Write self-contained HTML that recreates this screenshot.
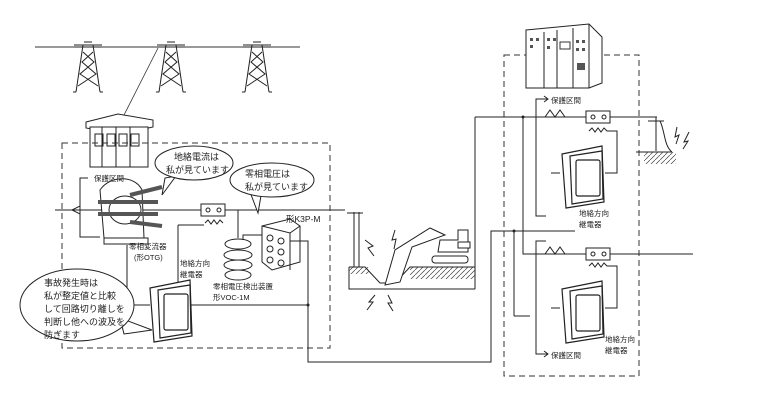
<!DOCTYPE html>
<html><head><meta charset="utf-8"><style>
html,body{margin:0;padding:0;background:#fff}
svg{display:block}
text{font-family:"Liberation Sans","Noto Sans CJK JP",sans-serif;fill:#222}
</style></head><body>
<svg width="768" height="419" viewBox="0 0 768 419" xmlns="http://www.w3.org/2000/svg">
<defs>
<pattern id="h" width="5" height="5" patternUnits="userSpaceOnUse"><path d="M0 5L5 0" stroke="#444" stroke-width="0.7"/></pattern>
<g id="tw" fill="none" stroke="#222" stroke-width="1">
<path d="M-4 0h8M-14 3h28M-14 5h28M-5 3L-12 50M5 3L12 50M-5 10L6 20L-8 32L10 44M5 10L-6 20L8 32L-10 44M-12 50h-3M12 50h3"/>
</g>
<g id="rel" fill="#fff" stroke="#222" stroke-width="1.2">
<path d="M0 8L40 0L42 56L4 62Z"/>
<path d="M8 10L40 5L41 53L10 58Z"/>
<rect x="14" y="14" width="24" height="36" rx="2"/>
</g>
</defs>

<path d="M35 47H300" stroke="#333" stroke-width="1"/>
<use href="#tw" x="88" y="42"/><use href="#tw" x="171" y="42"/><use href="#tw" x="257" y="42"/>
<path d="M158 48L123 117" stroke="#333" stroke-width="0.8"/>

<g fill="#fff" stroke="#222" stroke-width="1">
<path d="M86 122L118 114L153 120L153 127L121 134L86 128Z"/>
<rect x="90" y="127" width="58" height="40"/>
<rect x="95" y="134" width="8" height="12"/><rect x="107" y="134" width="8" height="12"/><rect x="119" y="134" width="8" height="12"/><rect x="131" y="134" width="8" height="12"/>
<path d="M102 127v40M116 127v40M130 127v40"/>
</g>

<rect x="62" y="143" width="268" height="205" fill="none" stroke="#333" stroke-width="1" stroke-dasharray="6,4"/>

<g fill="none" stroke="#222" stroke-width="1">
<path d="M55 210H345"/>
<path d="M72 210l8 -4v8z"/>
<path d="M88 178H80V237H100"/>
<path d="M100 190c10-15 35-15 42 0l2 48h-40z" fill="#fff"/>
<ellipse cx="125" cy="210" rx="16" ry="14" fill="#fff"/>
<path d="M98 202h60M98 214h60M130 195l32 -8M130 222l32 4" stroke-width="4" stroke="#555"/>
<path d="M104 238h44v6h-44z" fill="#fff"/>
<rect x="201" y="204" width="24" height="12" fill="#fff"/>
<circle cx="208" cy="210" r="2"/><circle cx="219" cy="210" r="2"/>
<path d="M205 223l3-3l3 4l3-4l3 4l3-4l3 3"/>
<path d="M178 225H204"/>
<path d="M178 225V290"/>
<path d="M127 245V290"/>
<path d="M238 210V238"/>
<g fill="#fff"><ellipse cx="238" cy="244" rx="13" ry="5"/><ellipse cx="238" cy="255" rx="14" ry="5"/><ellipse cx="238" cy="265" rx="14" ry="5"/><ellipse cx="238" cy="275" rx="13" ry="5"/></g>
<path d="M243 240V235H262"/>
<path d="M262 226L290 219L300 226V262L272 270L262 262Z" fill="#fff"/>
<path d="M262 226L290 233L300 226M290 233V270"/>
<circle cx="270" cy="238" r="3"/><circle cx="281" cy="241" r="3"/><circle cx="270" cy="249" r="3"/><circle cx="281" cy="252" r="3"/><circle cx="270" cy="260" r="3"/><circle cx="281" cy="263" r="3"/>
<path d="M290 241H308V362H491V231H575"/>
<path d="M190 305H308"/>
<path d="M133 305H150"/>
</g>
<use href="#rel" x="150" y="280"/>
<circle cx="308" cy="305" r="1.5" fill="#222"/>

<g fill="#fff" stroke="#222" stroke-width="1">
<path d="M165 178 L162 195 L176 176 Z"/>
<ellipse cx="194" cy="163" rx="39" ry="17"/>
<path d="M250 192 L258 213 L262 190 Z"/>
<ellipse cx="272" cy="180" rx="42" ry="17"/>
<path d="M120 318 L152 330 L124 334 Z"/>
<ellipse cx="77" cy="305" rx="57" ry="36"/>
</g>
<text x="174" y="160" font-size="9">地絡電流は</text>
<text x="166" y="173" font-size="9">私が見ています</text>
<text x="245" y="177" font-size="9">零相電圧は</text>
<text x="245" y="190" font-size="9">私が見ています</text>
<text x="44" y="286" font-size="9">事故発生時は</text>
<text x="44" y="299" font-size="9">私が整定値と比較</text>
<text x="44" y="312" font-size="9">して回路切り離しを</text>
<text x="44" y="325" font-size="9">判断し他への波及を</text>
<text x="44" y="338" font-size="9">防ぎます</text>
<text x="94" y="181" font-size="7.5">保護区間</text>
<text x="129" y="249" font-size="7.5">零相変流器</text>
<text x="134" y="260" font-size="7.5">(形OTG)</text>
<text x="180" y="266" font-size="7.5">地絡方向</text>
<text x="180" y="277" font-size="7.5">継電器</text>
<text x="213" y="289" font-size="7.5">零相電圧検出装置</text>
<text x="213" y="300" font-size="7.5">形VOC-1M</text>
<text x="286" y="222" font-size="8.5">形K3P-M</text>

<g fill="none" stroke="#222" stroke-width="1">
<path d="M349 267V289H475"/>
<path d="M475 117V289"/>
<rect x="349" y="267" width="20" height="7" fill="url(#h)" stroke="none"/>
<rect x="410" y="267" width="65" height="12" fill="url(#h)" stroke="none"/>
<path d="M349 267H365L380 283L395 283L410 267H475"/>
<path d="M354 212V267M359 212V267M347 213h16"/>
<path d="M365 240l8 6l-5 2l6 8M395 230l-3 10l4 -1l-2 10M405 260l-8 8l5 1l-8 9M375 295l-6 7l4 0l-6 8M388 295l4 8l-4 0l5 8"/>
<path d="M385 285L395 250L430 228L445 235L412 247L400 282Z" fill="#fff"/>
<path d="M440 240h18v-10h10v22h-30z" fill="#fff"/>
<rect x="432" y="256" width="36" height="7" rx="3" fill="#fff"/>
<path d="M458 242h12v6h-12z" fill="#fff"/>
</g>

<rect x="504" y="55" width="135" height="321" fill="none" stroke="#333" stroke-width="1" stroke-dasharray="6,4"/>
<g fill="#fff" stroke="#222" stroke-width="1">
<path d="M526 30L589 24L602 37V83L589 88L526 88Z"/>
<path d="M589 24V88"/>
<path d="M544 32V88M557 30V88M573 28V88"/>
</g>
<g fill="#555"><rect x="530" y="38" width="3" height="3"/><rect x="536" y="38" width="3" height="3"/><rect x="530" y="45" width="3" height="3"/><rect x="547" y="38" width="3" height="3"/><rect x="553" y="38" width="3" height="3"/><rect x="547" y="46" width="3" height="3"/><rect x="560" y="42" width="10" height="7" fill="none" stroke="#333"/><rect x="576" y="40" width="3" height="3"/><rect x="582" y="40" width="3" height="3"/><rect x="576" y="48" width="3" height="3"/><rect x="582" y="48" width="3" height="3"/><rect x="577" y="63" width="8" height="7"/></g>
<g fill="none" stroke="#222" stroke-width="1">
<path d="M475 117H657M523 117V254H693"/>
<path d="M545 117l5-7l5 7l5-7l5 7"/>
<path d="M545 254l5-7l5 7l5-7l5 7"/>
<path d="M546 216H536V99H548M544 96l4 3l-4 3"/>
<path d="M546 241H536V354H548M544 351l4 3l-4 3"/>
<rect x="586" y="111" width="24" height="12" fill="#fff"/><circle cx="593" cy="117" r="2"/><circle cx="604" cy="117" r="2"/>
<path d="M589 131l3-3l3 4l3-4l3 4l3-4l3 3H617V173H605M551 173H560"/>
<rect x="586" y="248" width="24" height="12" fill="#fff"/><circle cx="593" cy="254" r="2"/><circle cx="604" cy="254" r="2"/>
<path d="M589 266l3-3l3 4l3-4l3 4l3-4l3 3H617V308H605M551 308H560M514 316H530"/>
<path d="M514 231V316"/>
<path d="M648 121h16M656 117V151M636 152h36"/>
<path d="M660 121c5 10 4 25 12 31M677 127l-2 10l4-2l-3 9M689 132l-5 10l4-1l-5 8"/>
</g>
<rect x="644" y="152" width="32" height="12" fill="url(#h)"/>
<circle cx="514" cy="231" r="1.5" fill="#222"/><circle cx="523" cy="117" r="1.5" fill="#222"/>
<use href="#rel" x="562" y="146"/>
<use href="#rel" x="562" y="281"/>
<text x="551" y="103" font-size="7.5">保護区間</text>
<text x="551" y="358" font-size="7.5">保護区間</text>
<text x="579" y="216" font-size="7.5">地絡方向</text>
<text x="579" y="227" font-size="7.5">継電器</text>
<text x="605" y="342" font-size="7.5">地絡方向</text>
<text x="605" y="353" font-size="7.5">継電器</text>
</svg>
</body></html>
